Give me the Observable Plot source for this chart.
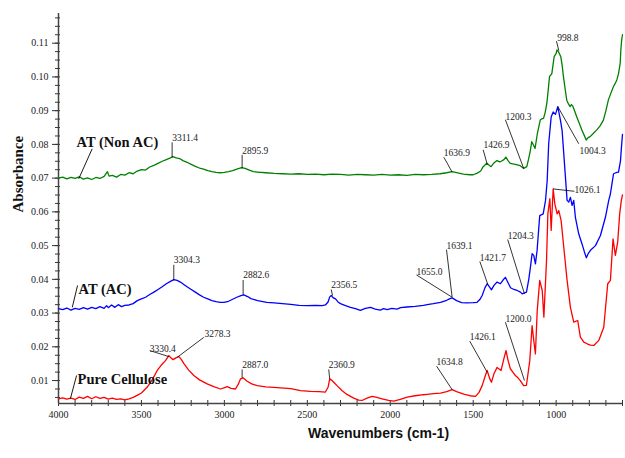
<!DOCTYPE html>
<html>
<head>
<meta charset="utf-8">
<script src="https://cdn.jsdelivr.net/npm/d3@7"></script>
<script src="https://cdn.jsdelivr.net/npm/@observablehq/plot@0.6"></script>
<style>
  html, body { margin: 0; padding: 0; background: #fff; }
  #chart svg { display: block; }
</style>
</head>
<body>
<div id="chart"></div>
<script>
// ---- Spectra: [wavenumber (cm-1), absorbance] ----
const atNonAC = [
  [4000,0.0700],[3975,0.0703],[3950,0.0698],[3925,0.0702],[3900,0.0699],[3875,0.0704],[3850,0.0697],
  [3825,0.0701],[3800,0.0696],[3775,0.0702],[3750,0.0699],[3725,0.0705],[3705,0.0719],[3695,0.0706],
  [3675,0.0708],[3650,0.0703],[3625,0.0711],[3600,0.0709],[3575,0.0716],[3550,0.0713],[3525,0.0721],
  [3500,0.0725],[3475,0.0724],[3450,0.0733],[3425,0.0738],[3400,0.0744],[3375,0.0750],[3350,0.0755],
  [3325,0.0760],[3311,0.0764],[3290,0.0760],[3270,0.0758],[3250,0.0752],[3225,0.0747],[3200,0.0741],
  [3175,0.0735],[3150,0.0730],[3125,0.0727],[3100,0.0722],[3075,0.0719],[3050,0.0717],[3025,0.0716],
  [3000,0.0717],[2975,0.0719],[2950,0.0722],[2925,0.0727],[2896,0.0731],[2875,0.0729],[2850,0.0724],
  [2825,0.0719],[2800,0.0718],[2750,0.0716],[2700,0.0714],[2650,0.0713],[2600,0.0712],[2550,0.0713],
  [2500,0.0711],[2450,0.0712],[2400,0.0710],[2350,0.0712],[2300,0.0711],[2250,0.0709],[2200,0.0711],
  [2150,0.0710],[2100,0.0709],[2050,0.0711],[2000,0.0709],[1950,0.0710],[1900,0.0708],[1850,0.0711],
  [1800,0.0710],[1750,0.0711],[1700,0.0713],[1660,0.0716],[1628,0.0719],[1600,0.0716],[1560,0.0712],
  [1520,0.0710],[1500,0.0710],[1475,0.0715],[1455,0.0721],[1440,0.0734],[1418,0.0744],[1400,0.0737],
  [1392,0.0734],[1375,0.0745],[1357,0.0752],[1340,0.0748],[1331,0.0750],[1315,0.0755],[1303,0.0762],
  [1290,0.0752],[1277,0.0744],[1260,0.0742],[1240,0.0740],[1217,0.0737],[1205,0.0732],[1197,0.0729],
  [1185,0.0732],[1177,0.0734],[1167,0.0755],[1157,0.0778],[1147,0.0808],[1137,0.0798],[1127,0.0788],
  [1113,0.0833],[1096,0.0872],[1086,0.0876],[1076,0.0877],[1066,0.0895],[1056,0.0922],[1048,0.0960],
  [1040,0.1001],[1026,0.1010],[1012,0.1060],[1000,0.1070],[995,0.1080],[985,0.1074],[972,0.1060],
  [964,0.1035],[956,0.1001],[946,0.0965],[936,0.0931],[926,0.0920],[916,0.0912],[908,0.0918],
  [900,0.0914],[888,0.0898],[876,0.0882],[860,0.0862],[845,0.0843],[830,0.0826],[819,0.0813],
  [807,0.0820],[795,0.0823],[775,0.0833],[755,0.0843],[735,0.0855],[715,0.0872],[700,0.0900],
  [685,0.0932],[670,0.0952],[655,0.0971],[645,0.0980],[634,0.0991],[624,0.1010],[614,0.1040],
  [610,0.1080],[605,0.1110],[600,0.1125]
];
const atAC = [
  [4000,0.0313],[3975,0.0310],[3950,0.0315],[3925,0.0309],[3900,0.0314],[3875,0.0311],[3850,0.0316],
  [3825,0.0312],[3800,0.0317],[3775,0.0313],[3750,0.0319],[3725,0.0314],[3710,0.0322],[3700,0.0316],
  [3680,0.0324],[3660,0.0317],[3640,0.0325],[3620,0.0319],[3600,0.0323],[3575,0.0324],[3550,0.0328],
  [3525,0.0337],[3500,0.0342],[3475,0.0347],[3450,0.0355],[3425,0.0362],[3400,0.0370],[3375,0.0378],
  [3350,0.0387],[3325,0.0394],[3305,0.0399],[3285,0.0397],[3265,0.0392],[3245,0.0385],[3225,0.0378],
  [3200,0.0370],[3175,0.0362],[3150,0.0354],[3125,0.0347],[3100,0.0342],[3075,0.0337],[3050,0.0334],
  [3025,0.0332],[3003,0.0332],[2975,0.0335],[2950,0.0341],[2925,0.0347],[2900,0.0352],[2883,0.0354],
  [2860,0.0349],[2840,0.0343],[2800,0.0337],[2744,0.0332],[2700,0.0330],[2650,0.0328],[2600,0.0326],
  [2550,0.0323],[2500,0.0322],[2450,0.0323],[2410,0.0322],[2391,0.0324],[2375,0.0333],[2365,0.0348],
  [2356,0.0352],[2345,0.0346],[2330,0.0342],[2315,0.0333],[2300,0.0328],[2270,0.0322],[2240,0.0317],
  [2210,0.0313],[2180,0.0308],[2150,0.0314],[2119,0.0317],[2090,0.0312],[2060,0.0309],[2040,0.0313],
  [2019,0.0310],[1990,0.0314],[1960,0.0312],[1938,0.0316],[1900,0.0318],[1850,0.0320],[1800,0.0323],
  [1777,0.0325],[1740,0.0328],[1697,0.0332],[1660,0.0338],[1640,0.0343],[1627,0.0345],[1600,0.0337],
  [1570,0.0331],[1540,0.0330],[1500,0.0331],[1477,0.0332],[1460,0.0340],[1446,0.0352],[1430,0.0374],
  [1416,0.0387],[1400,0.0376],[1390,0.0369],[1375,0.0382],[1356,0.0392],[1336,0.0387],[1320,0.0398],
  [1306,0.0406],[1290,0.0390],[1275,0.0375],[1255,0.0370],[1235,0.0367],[1215,0.0362],[1205,0.0357],
  [1190,0.0360],[1179,0.0362],[1165,0.0400],[1155,0.0436],[1145,0.0476],[1135,0.0471],[1125,0.0446],
  [1115,0.0485],[1099,0.0589],[1078,0.0594],[1064,0.0634],[1054,0.0693],[1045,0.0802],[1030,0.0881],
  [1018,0.0896],[1004,0.0889],[990,0.0912],[974,0.0871],[964,0.0841],[954,0.0772],[944,0.0703],
  [934,0.0634],[924,0.0629],[914,0.0643],[904,0.0619],[894,0.0634],[884,0.0584],[864,0.0535],
  [844,0.0505],[830,0.0482],[818,0.0464],[805,0.0478],[793,0.0486],[763,0.0500],[733,0.0530],
  [703,0.0584],[683,0.0634],[673,0.0653],[663,0.0685],[654,0.0713],[640,0.0716],[624,0.0718],
  [612,0.0752],[605,0.0800],[600,0.0830]
];
const pureCellulose = [
  [4000,0.0046],[3975,0.0049],[3950,0.0045],[3925,0.0048],[3900,0.0044],[3875,0.0051],[3850,0.0047],
  [3825,0.0053],[3800,0.0046],[3775,0.0052],[3750,0.0047],[3725,0.0050],[3700,0.0045],[3675,0.0048],
  [3650,0.0044],[3625,0.0046],[3600,0.0043],[3575,0.0046],[3550,0.0050],[3526,0.0056],[3500,0.0063],
  [3466,0.0080],[3435,0.0102],[3405,0.0130],[3380,0.0146],[3355,0.0159],[3335,0.0174],[3320,0.0166],
  [3309,0.0162],[3290,0.0168],[3274,0.0171],[3260,0.0163],[3244,0.0150],[3215,0.0131],[3184,0.0115],
  [3150,0.0102],[3104,0.0090],[3060,0.0081],[3023,0.0075],[2995,0.0080],[2983,0.0082],[2960,0.0077],
  [2933,0.0075],[2915,0.0090],[2903,0.0105],[2887,0.0108],[2863,0.0098],[2835,0.0090],[2802,0.0085],
  [2750,0.0081],[2682,0.0079],[2600,0.0076],[2541,0.0070],[2481,0.0068],[2430,0.0067],[2391,0.0066],
  [2375,0.0080],[2365,0.0105],[2351,0.0100],[2335,0.0092],[2321,0.0085],[2290,0.0070],[2261,0.0059],
  [2220,0.0048],[2190,0.0042],[2170,0.0041],[2140,0.0048],[2110,0.0053],[2080,0.0050],[2050,0.0046],
  [2010,0.0041],[1978,0.0039],[1940,0.0044],[1898,0.0051],[1850,0.0055],[1800,0.0058],[1777,0.0059],
  [1740,0.0061],[1697,0.0063],[1660,0.0067],[1627,0.0073],[1600,0.0067],[1557,0.0060],[1520,0.0055],
  [1486,0.0053],[1465,0.0065],[1446,0.0085],[1430,0.0110],[1416,0.0130],[1400,0.0105],[1390,0.0095],
  [1375,0.0120],[1356,0.0139],[1340,0.0133],[1332,0.0130],[1315,0.0165],[1302,0.0189],[1290,0.0160],
  [1276,0.0135],[1260,0.0124],[1246,0.0115],[1230,0.0108],[1216,0.0100],[1196,0.0085],[1179,0.0086],
  [1159,0.0159],[1145,0.0263],[1135,0.0219],[1125,0.0179],[1114,0.0308],[1099,0.0397],[1084,0.0367],
  [1074,0.0288],[1058,0.0456],[1050,0.0594],[1038,0.0639],[1030,0.0545],[1018,0.0668],[1008,0.0624],
  [994,0.0594],[984,0.0604],[970,0.0574],[954,0.0495],[934,0.0397],[914,0.0317],[894,0.0273],
  [870,0.0278],[854,0.0229],[833,0.0214],[813,0.0209],[793,0.0205],[773,0.0204],[743,0.0219],
  [713,0.0258],[689,0.0387],[673,0.0397],[657,0.0520],[643,0.0471],[629,0.0510],[617,0.0594],
  [607,0.0634],[600,0.0650]
];

// ---- Axis ticks ----
const xTickLabels = [4000, 3500, 3000, 2500, 2000, 1500, 1000];
const xMinorTicks = d3.range(4000, 599, -100);
const yTickLabels = [0.01, 0.02, 0.03, 0.04, 0.05, 0.06, 0.07, 0.08, 0.09, 0.10, 0.11];
const yMinorTicks = d3.range(0.005, 0.1188, 0.0025);

// ---- Peak annotations (data coordinates) ----
const peakLabels = ["3311.4","2895.9","1636.9","1426.9","1200.3","998.8",
                    "1004.3","3304.3","2882.6","2356.5","1655.0","1639.1","1421.7","1204.3",
                    "1026.1","3330.4","3278.3","2887.0","2360.9","1634.8","1426.1","1200.0"];
const peakTextW  = [3315,2893,1677,1438,1306,994, 859,3305,2887,2356,1842,1661,1460,1292, 890,3450,3120,2893,2371,1721,1521,1306];
const peakTextA  = [0.0809,0.0772,0.0767,0.0788,0.0871,0.1106, 0.0773,0.0447,0.0403,0.0373,0.0414,0.0491,0.0454,0.0520, 0.0657,0.0186,0.0228,0.0136,0.0136,0.0145,0.0219,0.0275];
const leaderW1   = [3315,2893,1677,1440,1306,998, 864,3305,2887,2356,1842,1661,1460,1292, 1018,3450,3124,2893,2371,1721,1521,1306];
const leaderA1   = [0.0806,0.0769,0.0762,0.0784,0.0873,0.1106, 0.0802,0.0443,0.0398,0.0370,0.0413,0.0488,0.0453,0.0518, 0.0668,0.0189,0.0228,0.0133,0.0133,0.0143,0.0217,0.0273];
const leaderW2   = [3315,2893,1627,1416,1195,984, 990,3305,2887,2348,1627,1627,1412,1191, 890,3335,3284,2893,2365,1627,1416,1191];
const leaderA2   = [0.0761,0.0729,0.0718,0.0742,0.0728,0.1078, 0.0912,0.0397,0.0354,0.0352,0.0347,0.0347,0.0385,0.0357, 0.0661,0.0171,0.0169,0.0108,0.0105,0.0073,0.0125,0.0100];

// ---- Series labels ----
const seriesNames   = ["AT (Non AC)", "AT (AC)", "Pure Cellulose"];
const seriesTextW   = [3891, 3879, 3885];
const seriesTextA   = [0.0791, 0.0358, 0.0091];
const seriesLeadW1  = [3797, 3885, 3891];
const seriesLeadA1  = [0.0787, 0.0382, 0.0115];
const seriesLeadW2  = [3878, 3917, 3928];
const seriesLeadA2  = [0.0698, 0.0317, 0.0047];

const peaks = peakLabels.map((t, i) => ({t, x: peakTextW[i], y: peakTextA[i], x1: leaderW1[i], y1: leaderA1[i], x2: leaderW2[i], y2: leaderA2[i]}));
const names = seriesNames.map((t, i) => ({t, x: seriesTextW[i], y: seriesTextA[i], x1: seriesLeadW1[i], y1: seriesLeadA1[i], x2: seriesLeadW2[i], y2: seriesLeadA2[i]}));

const serif = "'Liberation Serif', 'Times New Roman', serif";
const sans = "'Liberation Sans', Arial, sans-serif";
const xDomain = [4000, 600];
const yDomain = [0.0032, 0.1188];

const chart = Plot.plot({
  width: 625,
  height: 458,
  marginLeft: 58,
  marginRight: 3,
  marginTop: 13,
  marginBottom: 55,
  style: {fontFamily: serif, fontSize: "10px", color: "#222", background: "#fff"},
  x: {domain: xDomain},
  y: {domain: yDomain},
  marks: [
    // axes
    Plot.axisX({ticks: xMinorTicks, tickSize: 6, dy: -3, fill: "none", stroke: "#333", label: null}),
    Plot.axisX({ticks: xTickLabels, tickSize: 0, tickPadding: 7, tickFormat: d => String(d), fontFamily: serif, fontSize: 10, fill: "#222", label: null}),
    Plot.axisY({ticks: yMinorTicks, tickSize: 5, dx: 2, fill: "none", stroke: "#333", label: null}),
    Plot.axisY({ticks: yTickLabels, tickSize: 6, tickPadding: 4, tickFormat: d3.format(".2f"), fontFamily: serif, fontSize: 10, fill: "#222", stroke: "#333", label: null}),
    Plot.ruleX([xDomain[0]], {y1: yDomain[0], y2: yDomain[1], stroke: "#444", strokeWidth: 1.5}),
    Plot.ruleY([yDomain[0]], {x1: xDomain[0], x2: xDomain[1], stroke: "#444", strokeWidth: 1.5}),
    // spectra
    Plot.line(atNonAC, {x: d => d[0], y: d => d[1], stroke: "#008000", strokeWidth: 1.3}),
    Plot.line(atAC, {x: d => d[0], y: d => d[1], stroke: "#0000ff", strokeWidth: 1.3}),
    Plot.line(pureCellulose, {x: d => d[0], y: d => d[1], stroke: "#ff0000", strokeWidth: 1.3}),
    // peak annotations
    Plot.link(peaks, {x1: "x1", y1: "y1", x2: "x2", y2: "y2", stroke: "#000", strokeWidth: 0.8}),
    Plot.text(peaks, {x: "x", y: "y", text: "t", textAnchor: "start", lineAnchor: "bottom", fontFamily: serif, fontSize: 9.5, fill: "#222"}),
    // series labels
    Plot.link(names, {x1: "x1", y1: "y1", x2: "x2", y2: "y2", stroke: "#000", strokeWidth: 0.9}),
    Plot.text(names, {x: "x", y: "y", text: "t", textAnchor: "start", lineAnchor: "bottom", fontFamily: serif, fontWeight: "bold", fontSize: 14.5, fill: "#111"}),
    // axis titles
    Plot.text(["Wavenumbers (cm-1)"], {frameAnchor: "bottom", dx: 38, dy: 34, text: d => d, fontFamily: sans, fontWeight: "bold", fontSize: 14, fill: "#111"}),
    Plot.text(["Absorbance"], {frameAnchor: "left", dx: -40, dy: 4, rotate: -90, text: d => d, fontFamily: serif, fontWeight: "bold", fontSize: 15, fill: "#111"})
  ]
});
document.getElementById("chart").appendChild(chart);
</script>
</body>
</html>
